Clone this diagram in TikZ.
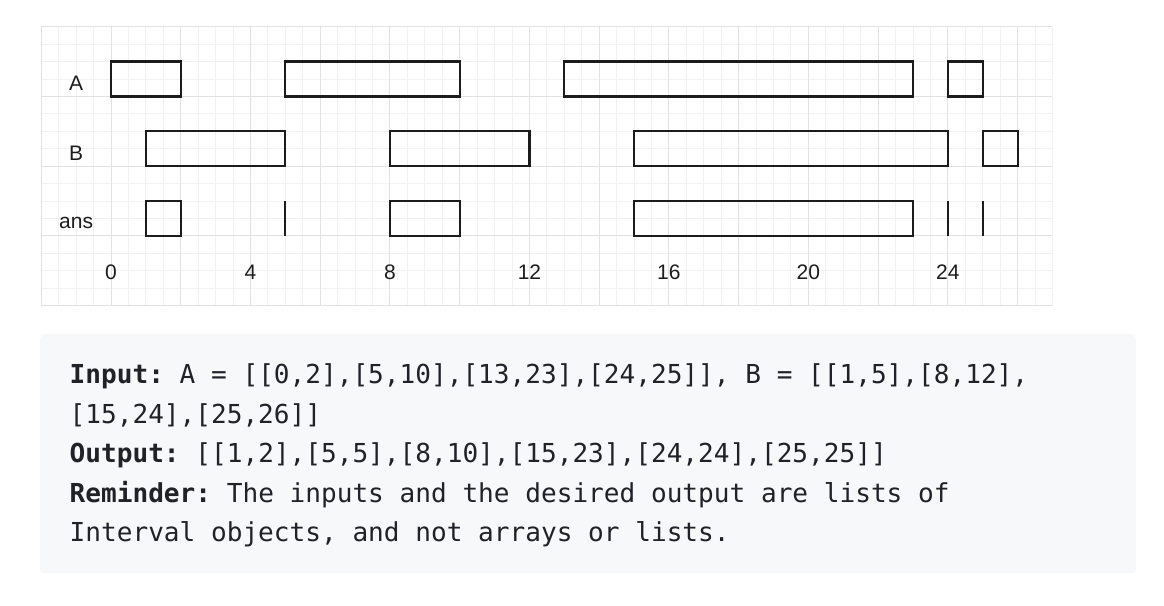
\documentclass[tikz,border=0pt]{standalone}
\usepackage{fontspec}
\usepackage{tikz}
\usetikzlibrary{positioning}
\newfontfamily\lblfont{Liberation Sans}
\newfontfamily\codefont{DejaVu Sans Mono}
\definecolor{gridminor}{HTML}{F1F1F1}
\definecolor{gridmajor}{HTML}{E2E2E2}
\definecolor{codebg}{HTML}{F6F8FA}
\definecolor{codefg}{HTML}{1F2328}
\definecolor{ink}{HTML}{1C1C1C}

\begin{document}
\begin{tikzpicture}[x=34.87pt,y=-34.87pt,
  ivbox/.style={draw=ink,line width=2.2pt},
  lbl/.style={text=ink,inner sep=0pt,anchor=base,font=\lblfont\fontsize{21}{25}\selectfont},
  codeline/.style={text=codefg,inner sep=0pt,anchor=base west,font=\codefont\fontsize{26.1}{40}\selectfont\frenchspacing}]
\useasboundingbox (-3.1833,-0.7657) rectangle (30.198,16.613);

% grid
		\foreach \gx in {-2,-1.5,...,27} \draw [gridminor,line width=1pt] (\gx,0) -- (\gx,8);
		\foreach \gy in {0,0.5,...,8} \draw [gridminor,line width=1pt] (-2,\gy) -- (27,\gy);
		\foreach \gx in {-2,0,...,26} \draw [gridmajor,line width=1pt] (\gx,0) -- (\gx,8);
		\foreach \gy in {0,2,...,8} \draw [gridmajor,line width=1pt] (-2,\gy) -- (27,\gy);

% row names
			\node[lbl] (nameA)   at (-1,1.835) {A};
			\node[lbl] (nameB)   at (-1,3.835) {B};
			\node[lbl] (nameans) at (-1,5.80)  {ans};

% A
			\draw [ivbox] (0,1) rectangle (2,2);
			\draw [ivbox] (5,1) rectangle (10,2);
			\draw [ivbox] (13,1) rectangle (23,2);
			\draw [ivbox] (24,1) rectangle (25,2);
% B
			\draw [ivbox] (1,3) rectangle (5,4);
			\draw [ivbox] (8,3) rectangle (12,4);
			\draw [ivbox] (15,3) rectangle (24,4);
			\draw [ivbox] (25,3) rectangle (26,4);
% ans
			\draw [ivbox] (1,5) rectangle (2,6);
			\draw [ivbox] (5,5) -- (5,6);
			\draw [ivbox] (8,5) rectangle (10,6);
			\draw [ivbox] (15,5) rectangle (23,6);
			\draw [ivbox] (24,5) -- (24,6);
			\draw [ivbox] (25,5) -- (25,6);

% axis numbers
			\node[lbl] (tick0)  at (0,7.24)  {0};
			\node[lbl] (tick4)  at (4,7.24)  {4};
			\node[lbl] (tick8)  at (8,7.24)  {8};
			\node[lbl] (tick12) at (12,7.24) {12};
			\node[lbl] (tick16) at (16,7.24) {16};
			\node[lbl] (tick20) at (20,7.24) {20};
			\node[lbl] (tick24) at (24,7.24) {24};

% example block
 \fill[codebg,rounded corners=6pt] (-2.036,8.813) rectangle (29.395,15.681);
 \node[codeline] (line1) at (-1.19,10.232) {\textbf{Input:} A = [[0,2],[5,10],[13,23],[24,25]], B = [[1,5],[8,12],};
 \node[codeline] (line2) at (-1.19,11.368) {[15,24],[25,26]]};
 \node[codeline] (line3) at (-1.19,12.504) {\textbf{Output:} [[1,2],[5,5],[8,10],[15,23],[24,24],[25,25]]};
 \node[codeline] (line4) at (-1.19,13.640) {\textbf{Reminder:} The inputs and the desired output are lists of};
 \node[codeline] (line5) at (-1.19,14.776) {Interval objects, and not arrays or lists.};
\end{tikzpicture}
\end{document}
